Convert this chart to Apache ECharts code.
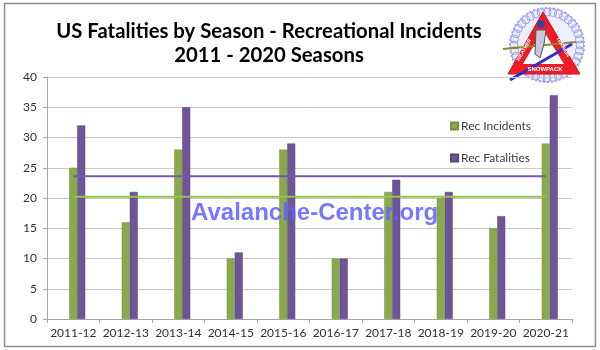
<!DOCTYPE html>
<html>
<head>
<meta charset="utf-8">
<script src="https://cdn.jsdelivr.net/npm/echarts@6/dist/echarts.min.js"></script>
<style>html,body{margin:0;padding:0;background:#fff;}#c{width:600px;height:350px;}</style>
</head>
<body>
<div id="c"></div>
<script>
const categories = ['2011-12','2012-13','2013-14','2014-15','2015-16','2016-17','2017-18','2018-19','2019-20','2020-21'];
const recIncidents = [25, 16, 28, 10, 28, 10, 21, 20, 15, 29];
const recFatalities = [32, 21, 35, 11, 29, 10, 23, 21, 17, 37];
const avgIncidents = [20.2, 20.2, 20.2, 20.2, 20.2, 20.2, 20.2, 20.2, 20.2, 20.2];
const avgFatalities = [23.6, 23.6, 23.6, 23.6, 23.6, 23.6, 23.6, 23.6, 23.6, 23.6];
const spacer = [null, null, null, null, null, null, null, null, null, null];

const FONT = 'Lato, "Open Sans", sans-serif';
const chart = echarts.init(document.getElementById('c'));

const snowDots = [];
for (let i = 0; i < 36; i++) {
  const a = i / 36 * Math.PI * 2;
  snowDots.push({type:'circle', shape:{cx:547 + Math.cos(a)*33, cy:45 + Math.sin(a)*33, r:4}, style:{fill:'none', stroke:'#9d9df2', lineWidth:1}, silent:true});
}

chart.setOption({
  animation: false,
  title: {
    text: 'US Fatalities by Season - Recreational Incidents\n2011 - 2020 Seasons',
    left: 264, top: 14, textAlign: 'center',
    textStyle: {fontFamily: FONT, fontWeight: 'bold', fontSize: 20.3, color: '#000', lineHeight: 24}
  },
  legend: {
    data: ['Rec Incidents', 'Rec Fatalities'],
    orient: 'vertical', left: 445, top: 115, itemWidth: 7, itemHeight: 7, itemGap: 20,
    icon: 'rect',
    textStyle: {fontFamily: FONT, fontSize: 12, color: '#404040', padding: [0,0,0,-2]}
  },
  grid: {left: 47, right: 28, top: 77, bottom: 31},
  xAxis: {
    type: 'category', data: categories,
    axisLine: {lineStyle: {color: '#a6a6a6'}},
    axisTick: {show: true, length: 4, lineStyle: {color: '#a6a6a6'}},
    axisLabel: {fontFamily: FONT, fontSize: 12, color: '#303030', margin: 8, interval: 0}
  },
  yAxis: {
    type: 'value', min: 0, max: 40, interval: 5,
    axisLine: {show: true, lineStyle: {color: '#a6a6a6'}},
    axisTick: {show: true, length: 4, lineStyle: {color: '#a6a6a6'}},
    axisLabel: {fontFamily: FONT, fontSize: 12, color: '#303030', margin: 10},
    splitLine: {lineStyle: {color: '#c8c8c8', width: 1}}
  },
  series: [
    {name: 'spacer', type: 'bar', data: spacer, barWidth: 8, barGap: '0%', itemStyle: {color: 'transparent'}},
    {name: 'Rec Incidents', type: 'bar', data: recIncidents, barWidth: 8, barGap: '0%',
      itemStyle: {color: '#8aa84c', borderColor: '#76923a', borderWidth: 0.5}},
    {name: 'Rec Fatalities', type: 'bar', data: recFatalities, barWidth: 8, barGap: '0%',
      itemStyle: {color: '#6e5596', borderColor: '#5a4480', borderWidth: 0.5}},
    {name: 'Avg Incidents', type: 'line', data: avgIncidents, symbol: 'none', z: 5,
      lineStyle: {color: '#92c34a', width: 2}},
    {name: 'Avg Fatalities', type: 'line', data: avgFatalities, symbol: 'none', z: 5,
      lineStyle: {color: '#7a58b0', width: 2}}
  ],
  graphic: [
    {type: 'rect', shape: {x: 4.5, y: 3.5, width: 591, height: 343}, style: {fill: 'none', stroke: '#8c8c8c', lineWidth: 1.5}, silent: true, z: 100},
    {type: 'text', left: 191, top: 201, z: 50, silent: true,
      style: {text: 'Avalanche-Center.org', fontFamily: '"Liberation Sans", Arial, sans-serif', fontWeight: 'bold', fontSize: 24, fill: 'rgba(95,95,255,0.85)'}},
    {type: 'group', z: 60, children: [
      {type: 'circle', shape: {cx: 547, cy: 45, r: 37}, style: {fill: '#eeeefd', stroke: '#a8a8f4', lineWidth: 2, lineDash: [2, 2]}, silent: true},
      ...snowDots,
      {type: 'polygon', shape: {points: [[543, 12], [508, 74], [580, 74]]}, style: {fill: '#ee1c24', stroke: '#d01018', lineWidth: 1}, silent: true},
      {type: 'polygon', shape: {points: [[543, 30], [523, 64], [564, 64]]}, style: {fill: '#ffffff'}, silent: true},
      {type: 'line', shape: {x1: 503, y1: 49, x2: 576, y2: 42}, style: {stroke: '#8a8a30', lineWidth: 2}, silent: true},
      {type: 'line', shape: {x1: 510, y1: 80, x2: 572, y2: 44}, style: {stroke: '#3030c8', lineWidth: 3}, silent: true},
      {type: 'circle', shape: {cx: 541, cy: 24, r: 4}, style: {fill: '#4040a0'}, silent: true},
      {type: 'polygon', shape: {points: [[536, 30], [546, 30], [544, 44], [540, 58], [535, 54]]}, style: {fill: '#c8c8d8', stroke: '#505070', lineWidth: 1}, silent: true},
      {type: 'text', x: 545, y: 69, style: {text: 'SNOWPACK', fontFamily: '"Liberation Sans", Arial, sans-serif', fontWeight: 'bold', fontSize: 6, fill: '#ffffff', align: 'center', verticalAlign: 'middle'}, silent: true},
      {type: 'text', x: 524, y: 50, rotation: Math.PI / 3, style: {text: 'WEATHER', fontFamily: '"Liberation Sans", Arial, sans-serif', fontWeight: 'bold', fontSize: 5, fill: '#ffffff', align: 'center', verticalAlign: 'middle'}, silent: true},
      {type: 'text', x: 563, y: 47, rotation: -Math.PI / 3, style: {text: 'TERRAIN', fontFamily: '"Liberation Sans", Arial, sans-serif', fontWeight: 'bold', fontSize: 5, fill: '#ffffff', align: 'center', verticalAlign: 'middle'}, silent: true}
    ]}
  ]
});
</script>
</body>
</html>
